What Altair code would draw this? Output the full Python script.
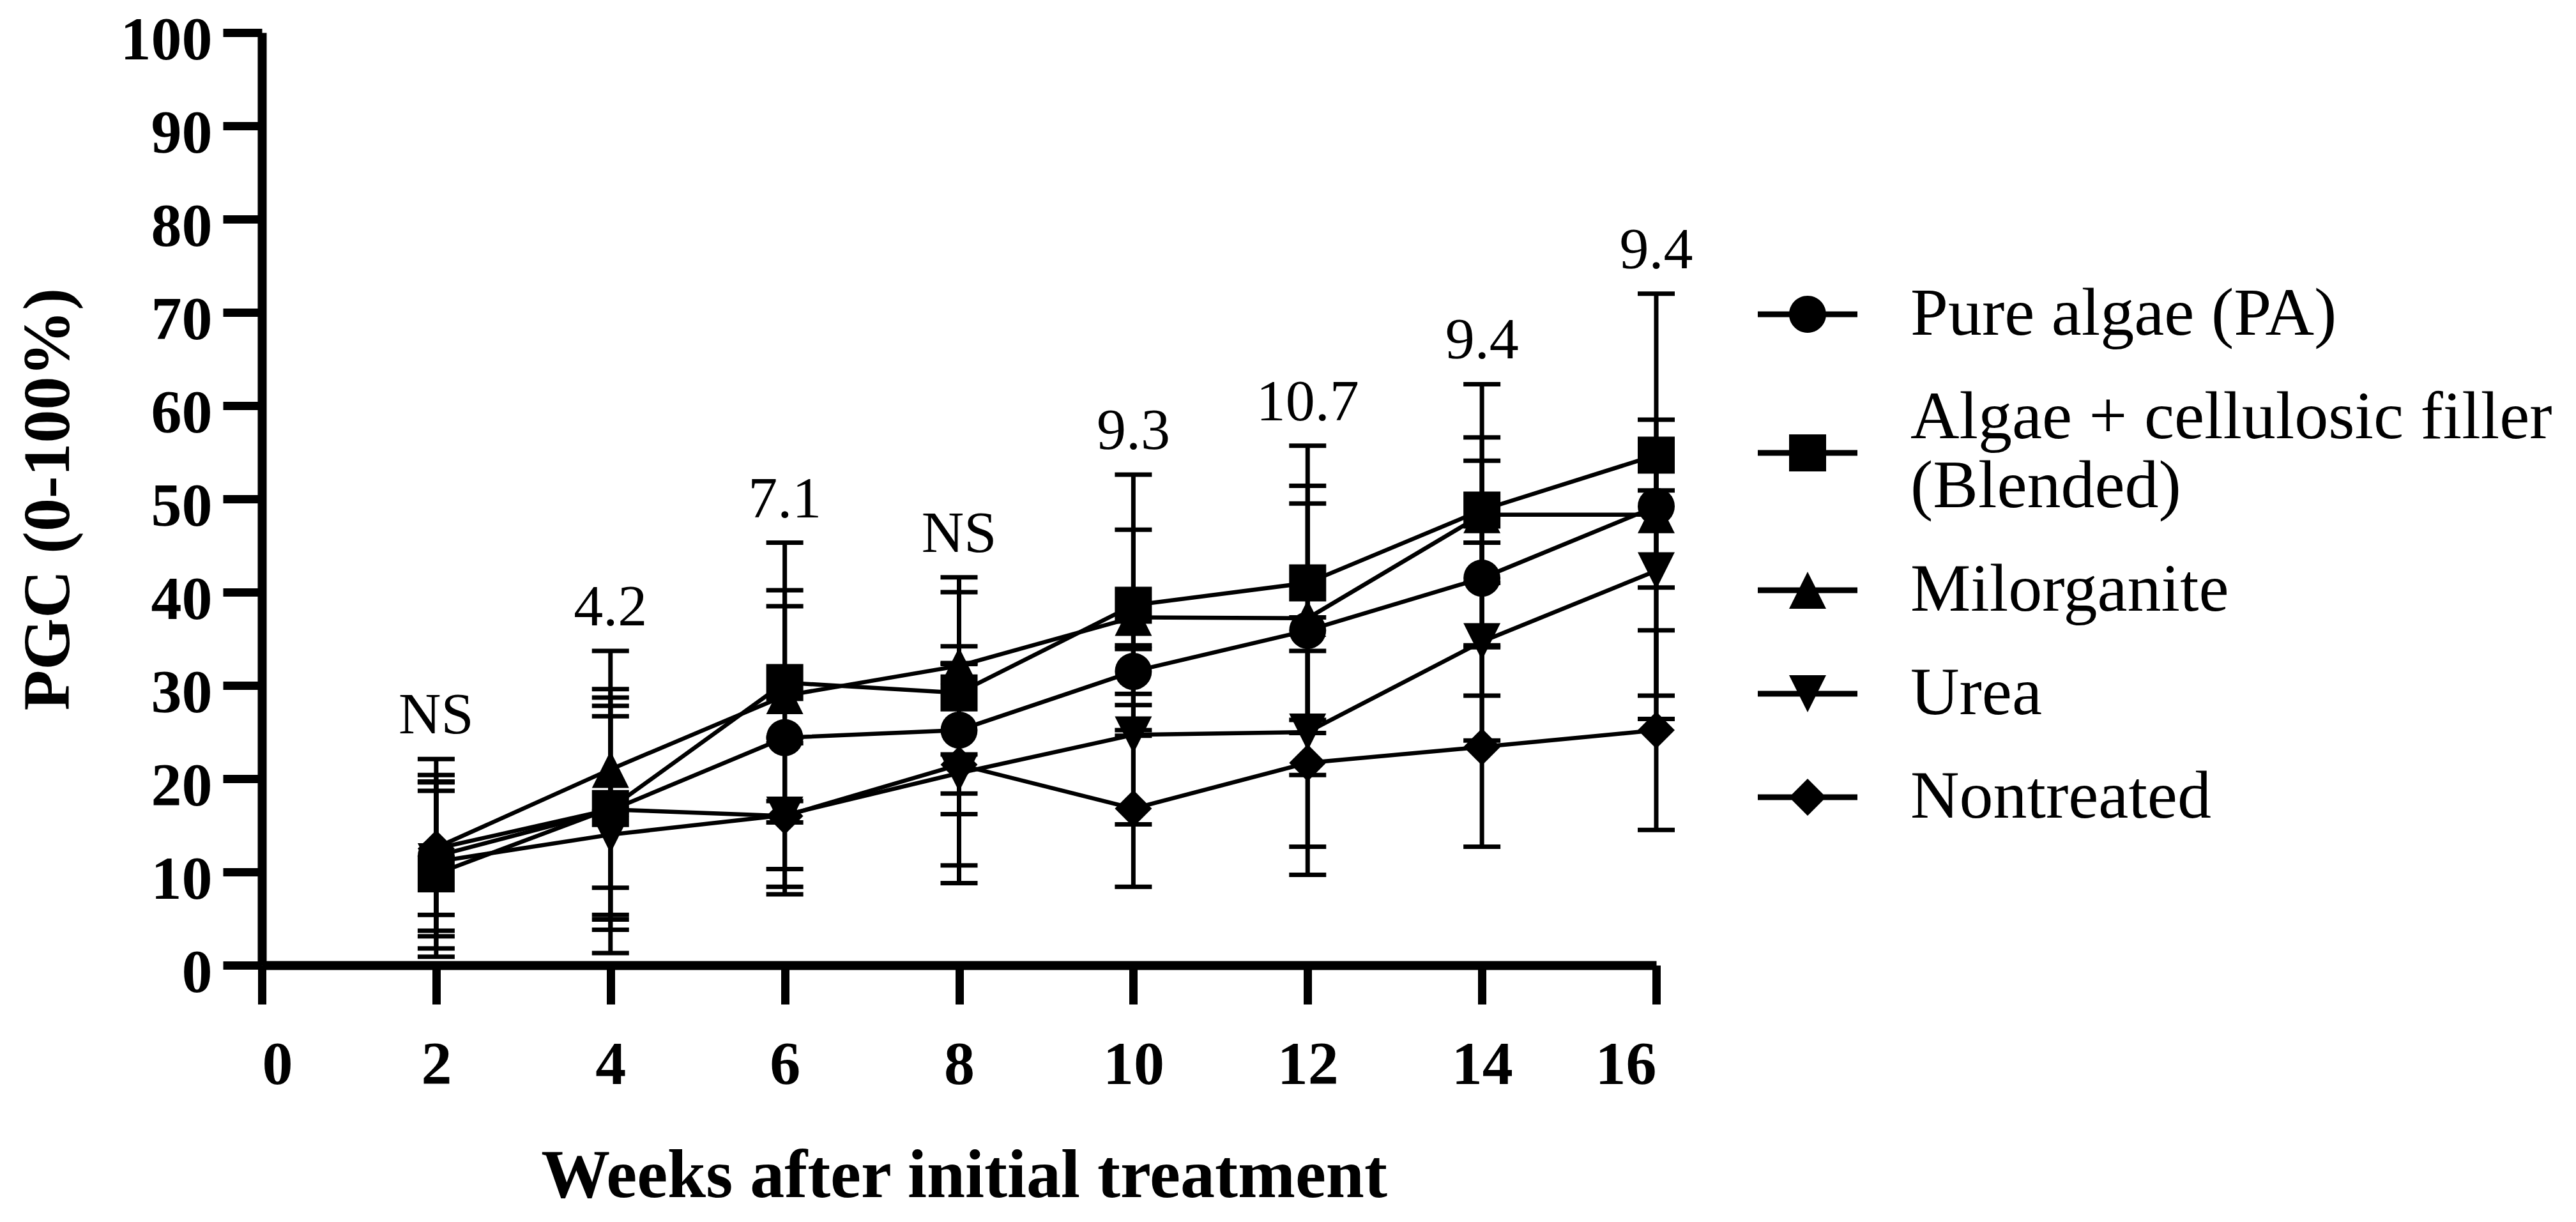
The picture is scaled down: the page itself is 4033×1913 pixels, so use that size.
import altair as alt
import pandas as pd

weeks = [2, 4, 6, 8, 10, 12, 14, 16]
series = ["Pure algae (PA)", "Algae + cellulosic filler (Blended)",
          "Milorganite", "Urea", "Nontreated"]

pa_mean = [11.7, 16.6, 24.4, 25.2, 31.5, 35.9, 41.5, 49.2]
pa_sd = [8.0, 11.2, 14.1, 9.0, 2.4, 15.5, 12.6, 22.8]
bl_mean = [9.8, 16.8, 30.3, 29.2, 38.6, 41.0, 48.8, 54.7]
bl_sd = [8.9, 11.9, 15.0, 10.8, 14.0, 14.7, 7.8, 3.8]
mi_mean = [12.6, 21.0, 28.9, 32.1, 37.3, 37.2, 48.3, 48.3]
mi_sd = [9.5, 12.7, 11.3, 9.5, 9.4, 12.3, 14.0, 7.8]
ur_mean = [11.1, 14.0, 16.1, 20.6, 24.7, 25.0, 34.7, 42.3]
ur_sd = [9.3, 12.7, 7.7, 11.8, 9.6, 12.3, 10.6, 13.4]
nt_mean = [12.5, 16.7, 16.0, 21.5, 16.8, 21.7, 23.4, 25.2]
nt_sd = [7.1, 12.9, 8.4, 10.8, 8.4, 12.0, 10.7, 10.7]

lsd_labels = ["NS", "4.2", "7.1", "NS", "9.3", "10.7", "9.4", "9.4"]

x_ticks = list(range(0, 17, 2))
y_ticks = list(range(0, 101, 10))

all_means = [pa_mean, bl_mean, mi_mean, ur_mean, nt_mean]
all_sds = [pa_sd, bl_sd, mi_sd, ur_sd, nt_sd]

rows = []
for name, means, sds in zip(series, all_means, all_sds):
    for w, m, s in zip(weeks, means, sds):
        rows.append({"series": name, "week": w, "mean": m,
                     "lo": round(m - s, 2), "hi": round(m + s, 2)})
df = pd.DataFrame(rows)

caps = pd.concat([
    df[["series", "week"]].assign(cap=df["lo"]),
    df[["series", "week"]].assign(cap=df["hi"]),
], ignore_index=True)

tops = df.groupby("week")["hi"].max()
ann = pd.DataFrame({"week": weeks, "label": lsd_labels,
                    "top": [tops[w] for w in weeks]})

FONT = "Liberation Serif"
TWO_LINE = "Algae + cellulosic filler (Blended)"

plot_shapes = ["circle", "square", "M0,-1L1,1L-1,1Z", "M0,1L-1,-1L1,-1Z", "diamond"]
# legend symbols: a filled horizontal bar (the line) plus the marker, all filled
BAR = "M-2.69,-0.155H2.69V0.155H-2.69Z"
legend_paths = [
    BAR + "M1,0A1,1,0,1,1,-1,0A1,1,0,1,1,1,0Z",
    BAR + "M-1,-1H1V1H-1Z",
    BAR + "M0,-1L1,1H-1Z",
    BAR + "M0,1L-1,-1H1Z",
    BAR + "M0,-1L1,0L0,1L-1,0Z",
]

xscale = alt.Scale(domain=[0, 16], nice=False, zero=False)
yscale = alt.Scale(domain=[0, 100], nice=False, zero=False)

x_axis = alt.Axis(values=x_ticks, title="Weeks after initial treatment",
                  labelPadding=48, titleX=1099, titleY=362,
                  titleBaseline="alphabetic", titleAlign="center")
y_axis = alt.Axis(values=y_ticks, title="PGC (0-100%)",
                  labelPadding=17, labelOffset=12, titleAngle=270,
                  titleX=-303, titleY=730, titleBaseline="alphabetic",
                  titleAlign="center")


def X():
    return alt.X("week:Q", scale=xscale, axis=x_axis)


def Y(field):
    return alt.Y(field, scale=yscale, axis=y_axis)


base = alt.Chart(df)

bars = base.mark_rule(strokeWidth=7, color="black").encode(
    x=X(), y=Y("lo:Q"), y2="hi:Q",
)

cap_layer = alt.Chart(caps).mark_tick(orient="horizontal", size=58, thickness=7,
                                      color="black", opacity=1).encode(
    x=X(), y=Y("cap:Q"),
)

lines = base.mark_line(strokeWidth=6.5, color="black").encode(
    x=X(), y=Y("mean:Q"), detail="series:N", order="week:Q",
)

points = base.mark_point(filled=True, color="black", opacity=1, size=3364,
                         strokeWidth=0).encode(
    x=X(), y=Y("mean:Q"),
    shape=alt.Shape("series:N", scale=alt.Scale(domain=series, range=plot_shapes),
                    legend=None),
)

labels = alt.Chart(ann).mark_text(font=FONT, fontSize=92, baseline="alphabetic",
                                  dy=-40, color="black", align="center").encode(
    x=X(), y=Y("top:Q"), text="label:N",
)

legend_layer = base.mark_point(filled=True, color="black", opacity=0).encode(
    x=X(), y=Y("mean:Q"),
    shape=alt.Shape(
        "series:N",
        scale=alt.Scale(domain=series, range=legend_paths),
        legend=alt.Legend(
            title=None, orient="none", legendX=2367, legendY=388,
            labelFont=FONT, labelFontSize=106, labelColor="black",
            labelOffset=108, labelLimit=3000, symbolSize=3364,
            symbolStrokeWidth=0, symbolFillColor="black",
            symbolOpacity=1, rowPadding=56, padding=0,
            labelBaseline={"expr": f"datum.label == '{TWO_LINE}' ? 'line-bottom' : 'middle'"},
            labelExpr=f"datum.label == '{TWO_LINE}' ? "
                      "['Algae + cellulosic filler', '(Blended)'] : datum.label",
        ),
    ),
)

chart = alt.layer(bars, cap_layer, lines, points, labels, legend_layer).resolve_scale(
    shape="independent"
).properties(
    width=2183, height=1460,
    autosize=alt.AutoSizeParams(type="none"),
    padding={"left": 402, "top": 43, "right": 1430, "bottom": 392},
).configure_view(stroke=None).configure_axis(
    grid=False, domainColor="black", domainWidth=14, tickColor="black",
    tickWidth=13, tickSize=61, labelFont=FONT, labelFontWeight="bold",
    labelFontSize=96, labelColor="black", titleFont=FONT,
    titleFontWeight="bold", titleFontSize=104, titleColor="black",
).configure_axisX(titleFontSize=108)

chart.save("out.html", embed_options={"renderer": "svg", "actions": False})
